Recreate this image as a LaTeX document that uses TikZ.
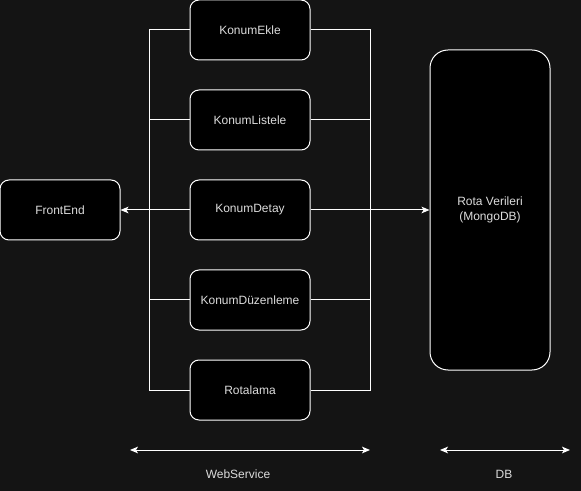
\documentclass[tikz,border=0pt]{standalone}
\usepackage{fontspec}
\setmainfont{Liberation Sans}
\usetikzlibrary{arrows.meta}

\definecolor{bgdark}{RGB}{20,20,20}
\definecolor{textgray}{RGB}{220,220,220}

\tikzset{
    svcbox/.style={draw=white, fill=black, rounded corners=6.75pt, line width=0.75pt,
        minimum width=90pt, minimum height=45pt, inner sep=0pt, text=textgray,
        font=\fontsize{9pt}{11pt}\selectfont, align=center},
    dbbox/.style={svcbox, rounded corners=13.5pt, minimum height=240pt},
    wire/.style={draw=white, line width=0.75pt},
    arrowwire/.style={wire, -{Stealth[length=6pt,width=5pt,inset=1.5pt]}},
    bothwire/.style={wire, {Stealth[length=6pt,width=5pt,inset=1.5pt]}-{Stealth[length=6pt,width=5pt,inset=1.5pt]}},
    caption/.style={text=textgray, font=\fontsize{9pt}{11pt}\selectfont}
}

\begin{document}
\begin{tikzpicture}[x=0.75pt, y=-0.75pt]
        % Background
        \fill[bgdark] (0,0) rectangle (581,491);
        \useasboundingbox (0,0) rectangle (581,491);

        % Frontend
        \node[svcbox] (frontend) at (60,210) {FrontEnd};

        % Web service components
        \node[svcbox] (ekle) at (250,30) {KonumEkle};
        \node[svcbox] (listele) at (250,120) {KonumListele};
        \node[svcbox] (detay) at (250,210) {KonumDetay};
        \node[svcbox] (duzenleme) at (250,300) {KonumDüzenleme};
        \node[svcbox] (rotalama) at (250,390) {Rotalama};

        % Database
        \node[dbbox] (rota) at (490,210) {Rota Verileri\\(MongoDB)};

        % Left bus
        \draw[wire] (ekle.west) -- ++(-40,0) |- (rotalama.west);
        \draw[wire] (listele.west) -- ++(-40,0);
        \draw[wire] (duzenleme.west) -- ++(-40,0);

        % Right bus
        \draw[wire] (ekle.east) -- ++(60,0) |- (rotalama.east);
        \draw[wire] (listele.east) -- ++(60,0);
        \draw[wire] (duzenleme.east) -- ++(60,0);

        % Connections
        \draw[arrowwire] (detay.west) -- (frontend.east);
        \draw[arrowwire] (detay.east) -- (rota.west);

        % Layer spans
        \coordinate (wsleft) at (130,450);
        \coordinate (wsright) at (370,450);
        \coordinate (dbleft) at (440,450);
        \coordinate (dbright) at (570,450);
        \draw[bothwire] (wsleft) -- (wsright);
        \draw[bothwire] (dbleft) -- (dbright);
        \node[caption] (wslabel) at (238,474) {WebService};
        \node[caption] (dblabel) at (504,474) {DB};
\end{tikzpicture}
\end{document}
